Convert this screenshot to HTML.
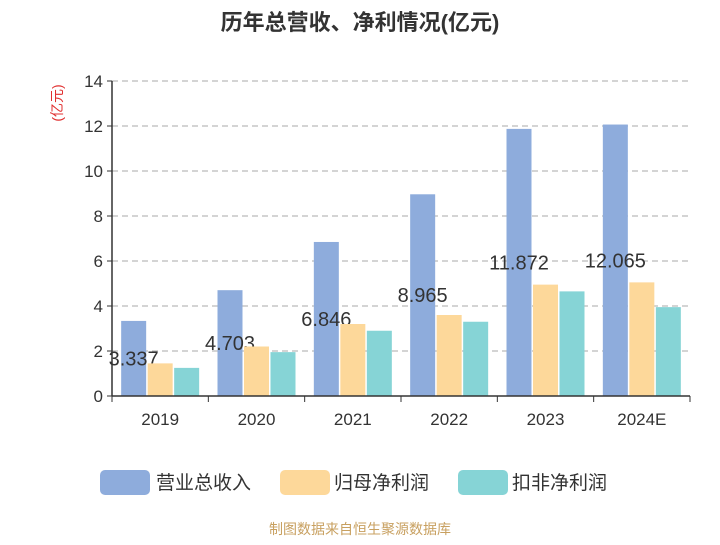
<!DOCTYPE html>
<html><head><meta charset="utf-8"><style>
body{margin:0;background:#fff;}
svg text{font-family:"Liberation Sans","Noto Sans CJK SC",sans-serif;}
</style></head><body>
<svg id="c" width="720" height="540">
<text x="360" y="30" text-anchor="middle" font-size="22" font-weight="bold" fill="#333">历年总营收、净利情况(亿元)</text>
<text transform="translate(62,103) rotate(-90)" text-anchor="middle" font-size="14" fill="#e03030">(亿元)</text>
<g id="grid"></g><g id="bars"></g><g id="axes"></g>
<g>
<rect x="100" y="470" width="50" height="25" rx="5" fill="#8eacdc"/>
<text x="156" y="489" font-size="19" fill="#333">营业总收入</text>
<rect x="280" y="470" width="50" height="25" rx="5" fill="#fdd89a"/>
<text x="334" y="489" font-size="19" fill="#333">归母净利润</text>
<rect x="458" y="470" width="50" height="25" rx="5" fill="#86d4d6"/>
<text x="512" y="489" font-size="19" fill="#333">扣非净利润</text>
</g>
<text x="360" y="534" text-anchor="middle" font-size="14" fill="#c8a060">制图数据来自恒生聚源数据库</text>
</svg>
<script>
const categories=["2019","2020","2021","2022","2023","2024E"];
const revenue=[3.337,4.703,6.846,8.965,11.872,12.065];
const netProfit=[1.45,2.2,3.2,3.6,4.95,5.05];
const deducted=[1.25,1.95,2.9,3.3,4.65,3.95];
const yTicks=[0,2,4,6,8,10,12,14];
const NS="http://www.w3.org/2000/svg";
const x0=112,x1=690,y0=396,yTop=81,yMax=14;
const band=(x1-x0)/categories.length;
const y=v=>y0-(v/yMax)*(y0-yTop);
function mk(tag,attrs,parent,txt){const e=document.createElementNS(NS,tag);for(const k in attrs)e.setAttribute(k,attrs[k]);if(txt!==undefined)e.textContent=txt;parent.appendChild(e);return e;}
const grid=document.getElementById('grid'),bars=document.getElementById('bars'),axes=document.getElementById('axes');
yTicks.forEach(t=>{
 if(t>0){const l=mk('line',{x1:x0,x2:x1,y1:y(t),y2:y(t),stroke:'#aaa','stroke-dasharray':'6,4'},grid);
 
 }
 const tk=mk('line',{x1:x0-5,x2:x0,y1:y(t),y2:y(t),stroke:'#333'},axes);
 
 
 const tx=mk('text',{x:x0-9,y:y(t)+6,'text-anchor':'end','font-size':17,fill:'#333'},axes,t);
 
 
});
const series=[[revenue,'#8eacdc','revenue'],[netProfit,'#fdd89a','net-profit'],[deducted,'#86d4d6','deducted']];
const bw=25,gap=1.5;
categories.forEach((c,i)=>{
 const cx=x0+band*(i+0.5);
 series.forEach((s,j)=>{
  const bx=cx+(j-1)*(bw+gap)-bw/2;
  const r=mk('rect',{x:bx,y:y(s[0][i]),width:bw,height:y0-y(s[0][i]),fill:s[1]},bars);
  
  
  if(j===0){
   const lb=mk('text',{x:bx+bw/2,y:y(s[0][i]/2)+7,'text-anchor':'middle','font-size':20,fill:'#333'},bars,s[0][i].toFixed(3));
   
   
  }
 });
 const tl=mk('text',{x:cx,y:y0+29,'text-anchor':'middle','font-size':17,fill:'#333'},axes,c);
 
 
});
for(let i=0;i<=categories.length;i++){
 const t=mk('line',{x1:x0+band*i,x2:x0+band*i,y1:y0,y2:y0+6,stroke:'#333'},axes);
 
 
}
const ax=mk('line',{x1:x0,x2:x1,y1:y0,y2:y0,stroke:'#333','stroke-width':1.5},axes);


const ay=mk('line',{x1:x0,x2:x0,y1:yTop,y2:y0,stroke:'#333','stroke-width':1.5},axes);


</script>
</body></html>
